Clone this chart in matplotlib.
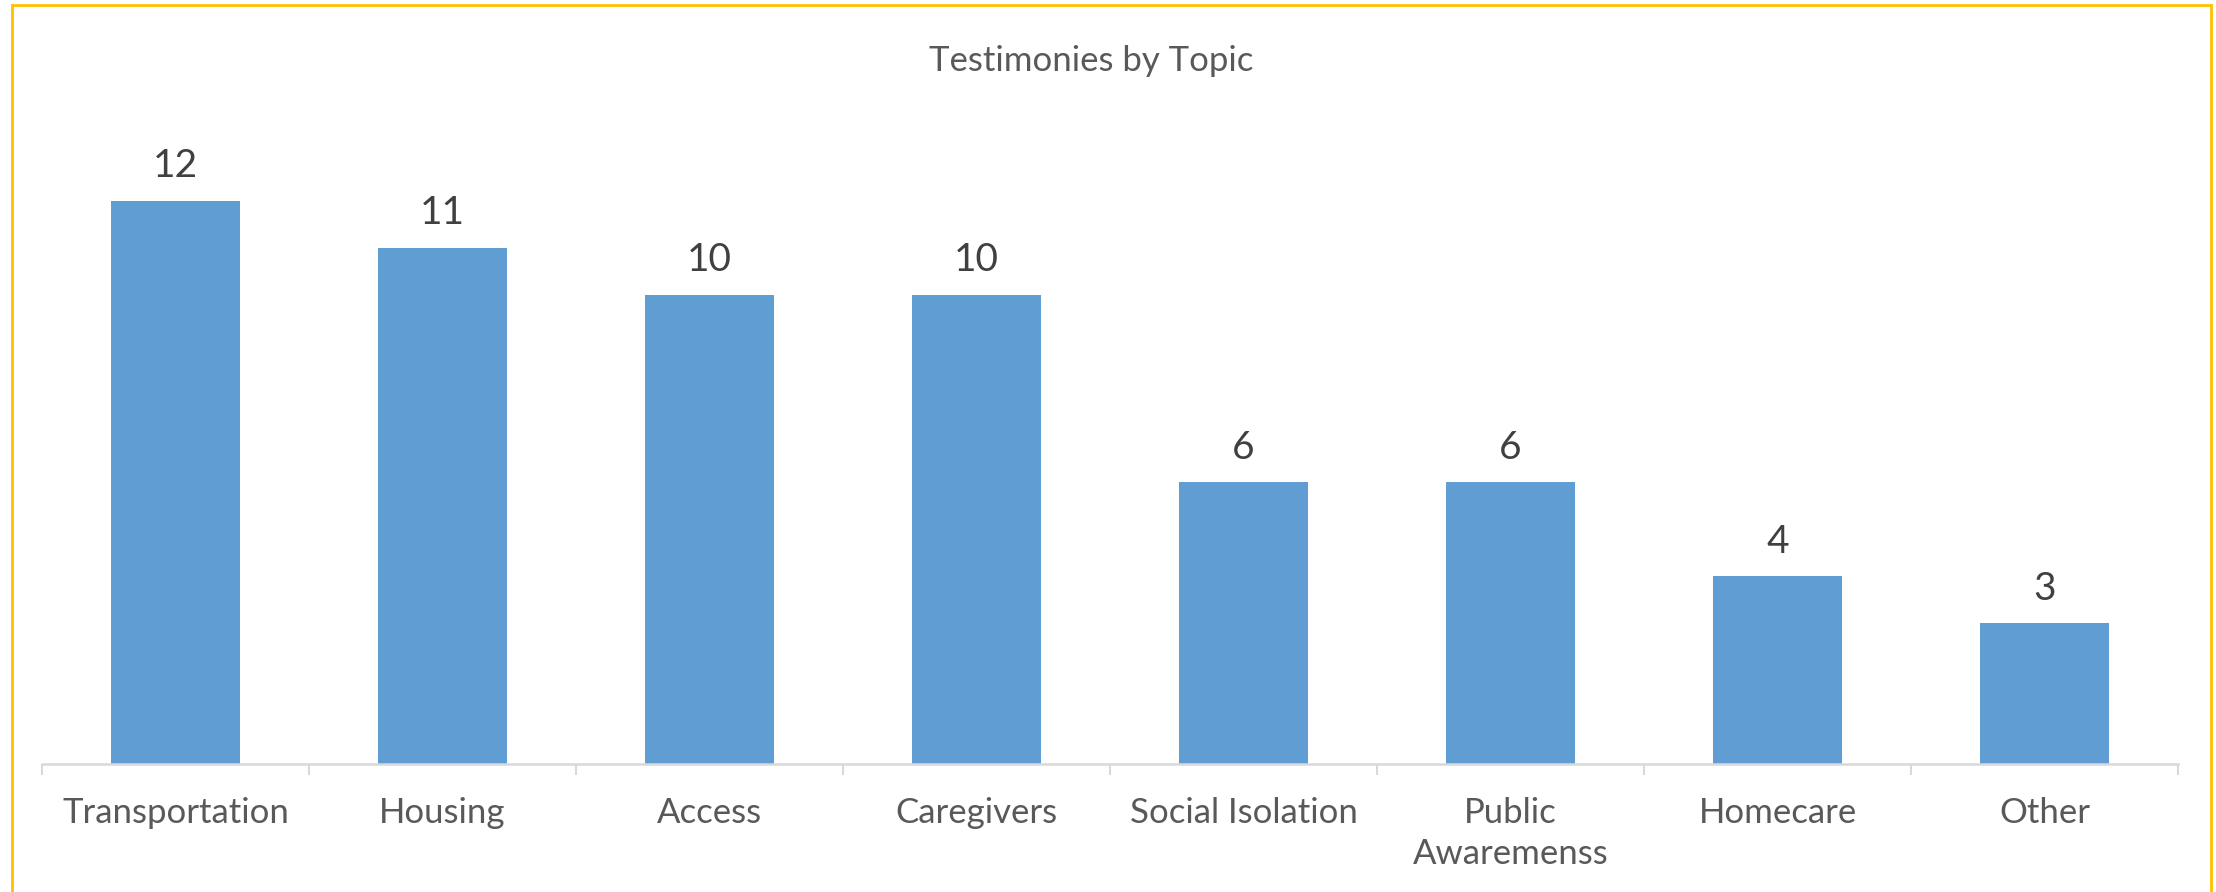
import matplotlib
matplotlib.use("Agg")
import matplotlib.pyplot as plt
from matplotlib.patches import Rectangle
import numpy as np

# chart data
topics = ["Transportation", "Housing", "Access", "Caregivers",
          "Social Isolation", "Public\nAwaremenss", "Homecare", "Other"]
counts = [12, 11, 10, 10, 6, 6, 4, 3]
title = "Testimonies by Topic"

BAR_COLOR = "#5F9DD2"
AXIS_COLOR = "#D9D9D9"
LABEL_COLOR = "#595959"
VALUE_COLOR = "#404040"
BORDER_COLOR = "#FFC000"

plt.rcParams['font.family'] = ['Lato', 'DejaVu Sans']

W, H, DPI = 2216, 892, 100
fig = plt.figure(figsize=(W / DPI, H / DPI), dpi=DPI)

# axes placed in pixel terms of the reference
left, right = 42, 2178
base, top = 764, 107
ax = fig.add_axes([left / W, 1 - base / H, (right - left) / W, (base - top) / H])

x = np.arange(len(topics))
bars = ax.bar(x, counts, width=0.486, color=BAR_COLOR, zorder=2)

# value labels above the bars
for xi, v in zip(x, counts):
    ax.annotate(str(v), (xi, v), xytext=(0, 12), textcoords="offset points",
                ha="center", va="bottom", fontsize=28, color=VALUE_COLOR)

ax.set_xlim(-0.5, len(topics) - 0.5)
ax.set_ylim(0, 14)

# category axis
for side in ("top", "right", "left"):
    ax.spines[side].set_visible(False)
ax.spines["bottom"].set_color(AXIS_COLOR)
ax.spines["bottom"].set_linewidth(1.8)
ax.set_yticks([])
ax.set_xticks(x)
ax.set_xticklabels(topics, fontsize=25, color=LABEL_COLOR, linespacing=1.33)
ax.tick_params(axis="x", which="major", length=0, pad=24)
ax.set_xticks(np.arange(len(topics) + 1) - 0.5, minor=True)
ax.tick_params(axis="x", which="minor", length=8, width=1.5, color=AXIS_COLOR)

fig.text(1091 / W, 1 - 70.7 / H, title, ha="center", va="baseline",
         fontsize=25, color=LABEL_COLOR)

# yellow frame around the chart area (bottom edge is off the image)
fig.patches.append(Rectangle((12 / W, -0.05), (2211 - 12) / W, 1.05 - 5 / H,
                             transform=fig.transFigure, fill=False,
                             edgecolor=BORDER_COLOR, linewidth=2))

fig.savefig("out.png", dpi=DPI)
